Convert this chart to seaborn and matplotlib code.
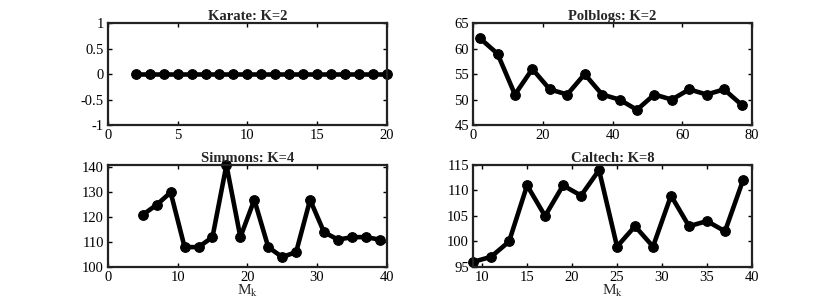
import numpy as np
import pandas as pd
import matplotlib
matplotlib.use('Agg')
import matplotlib.pyplot as plt
import seaborn as sns

# data
karate_x = list(range(2, 21))
karate_y = [0] * 19

polblogs_x = list(range(2, 78, 5))
polblogs_y = [62, 59, 51, 56, 52, 51, 55, 51, 50, 48, 51, 50, 52, 51, 52, 49]

simmons_x = list(range(5, 40, 2))
simmons_y = [121, 125, 130, 108, 108, 112, 141, 112, 127, 108, 104, 106, 127, 114, 111, 112, 112, 111]

caltech_x = list(range(9, 40, 2))
caltech_y = [96, 97, 100, 111, 105, 111, 109, 114, 99, 103, 99, 109, 103, 104, 102, 112]

sns.set_style('white')
plt.rcParams['font.family'] = ['Liberation Serif', 'DejaVu Serif']
plt.rcParams['mathtext.fontset'] = 'stix'
plt.rcParams['axes.unicode_minus'] = False

fig = plt.figure(figsize=(8.3, 3.0), dpi=100)

panels = [
    ('Karate: K=2', karate_x, karate_y, (0, 20), (-1, 1), [0, 5, 10, 15, 20], [-1, -0.5, 0, 0.5, 1], False,
     [0.130, 0.583, 0.336, 0.340]),
    ('Polblogs: K=2', polblogs_x, polblogs_y, (0, 80), (45, 65), [0, 20, 40, 60, 80], [45, 50, 55, 60, 65], False,
     [0.570, 0.583, 0.336, 0.340]),
    ('Simmons: K=4', simmons_x, simmons_y, (0, 40), (100, 141), [0, 10, 20, 30, 40], [100, 110, 120, 130, 140], True,
     [0.130, 0.110, 0.336, 0.340]),
    ('Caltech: K=8', caltech_x, caltech_y, (9, 40), (95, 115), [10, 15, 20, 25, 30, 35, 40], [95, 100, 105, 110, 115], True,
     [0.570, 0.110, 0.336, 0.340]),
]

for title, xs, ys, xl, yl, xt, yt, xlab, rect in panels:
    ax = fig.add_axes(rect)
    df = pd.DataFrame({'x': xs, 'y': ys})
    sns.lineplot(data=df, x='x', y='y', ax=ax, color='black', linewidth=3.3,
                 marker='o', markersize=7, markeredgecolor='black', clip_on=False)
    ax.set_xlim(*xl)
    ax.set_ylim(*yl)
    ax.set_xticks(xt)
    ax.set_yticks(yt)
    ax.set_yticklabels([('%g' % v) for v in yt])
    ax.set_title(title, fontsize=10.5, fontweight='bold', pad=2)
    ax.set_xlabel(r'M$_\mathrm{k}$' if xlab else '', fontsize=11, labelpad=-1)
    ax.set_ylabel('')
    ax.tick_params(direction='in', length=3, width=1, labelsize=10.5, top=True, right=True,
                   bottom=True, left=True, pad=3, colors='black')
    for s in ax.spines.values():
        s.set_linewidth(1.6)
        s.set_color('#222222')

fig.savefig('out.png', dpi=100)
